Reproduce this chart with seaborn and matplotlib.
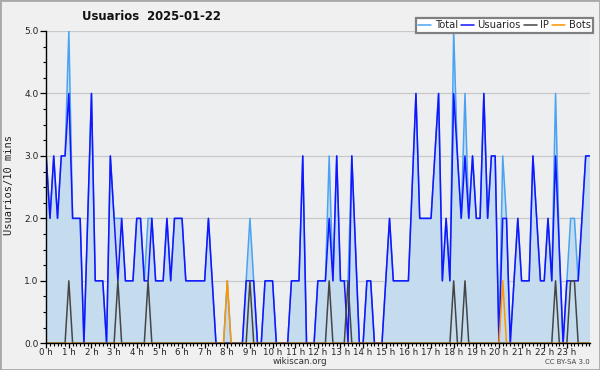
import numpy as np
import pandas as pd
import matplotlib
matplotlib.use("Agg")
import matplotlib.pyplot as plt
import seaborn as sns
from matplotlib.ticker import MultipleLocator, FixedLocator, FormatStrFormatter
from matplotlib.patches import Rectangle

# ---- data (10-minute slots, 0h .. 24h) ----
hour_labels = [f"{h} h" for h in range(24)]

usuarios = [
    3, 2, 3, 2, 3, 3,      # 0h
    4, 2, 2, 2, 0, 2,      # 1h
    4, 1, 1, 1, 0, 3,      # 2h
    2, 1, 2, 1, 1, 1,      # 3h
    2, 2, 1, 1, 2, 1,      # 4h
    1, 1, 2, 1, 2, 2,      # 5h
    2, 1, 1, 1, 1, 1,      # 6h
    1, 2, 1, 0, 0, 0,      # 7h
    0, 0, 0, 0, 0, 1,      # 8h
    1, 1, 0, 0, 1, 1,      # 9h
    1, 0, 0, 0, 0, 1,      # 10h
    1, 1, 3, 0, 0, 0,      # 11h
    1, 1, 1, 2, 1, 3,      # 12h
    1, 1, 0, 3, 1.5, 0,    # 13h
    0, 1, 1, 0, 0, 0,      # 14h
    1, 2, 1, 1, 1, 1,      # 15h
    1, 2.5, 4, 2, 2, 2,    # 16h
    2, 3, 4, 1, 2, 1,      # 17h
    4, 3, 2, 3, 2, 3,      # 18h
    2, 2, 4, 2, 3, 3,      # 19h
    0, 2, 2, 0, 1, 2,      # 20h
    1, 1, 1, 3, 2, 1,      # 21h
    1, 2, 1, 3, 1.5, 0,    # 22h
    1, 1, 1, 1, 2, 3,      # 23h
    3,
]

total = [
    3, 2, 3, 2, 3, 3,
    5, 2, 2, 2, 0, 2,
    4, 1, 1, 1, 0, 3,
    2, 2, 2, 1, 1, 1,
    2, 2, 1, 2, 2, 1,
    1, 1, 2, 1, 2, 2,
    2, 1, 1, 1, 1, 1,
    1, 2, 1, 0, 0, 0,
    1, 0, 0, 0, 0, 1,
    2, 1, 0, 0, 1, 1,
    1, 0, 0, 0, 0, 1,
    1, 1, 3, 0, 0, 0,
    1, 1, 1, 3, 1, 3,
    1, 1, 1, 3, 1.5, 0,
    0, 1, 1, 0, 0, 0,
    1, 2, 1, 1, 1, 1,
    1, 2.5, 4, 2, 2, 2,
    2, 3, 4, 1, 2, 1,
    5, 3, 2, 4, 2, 3,
    2, 2, 4, 2, 3, 3,
    0, 3, 2, 0, 1, 2,
    1, 1, 1, 3, 2, 1,
    1, 2, 1, 4, 1.5, 0,
    1, 2, 2, 1, 2, 3,
    3,
]

ip = [
    0, 0, 0, 0, 0, 0,
    1, 0, 0, 0, 0, 0,
    0, 0, 0, 0, 0, 0,
    0, 1, 0, 0, 0, 0,
    0, 0, 0, 1, 0, 0,
    0, 0, 0, 0, 0, 0,
    0, 0, 0, 0, 0, 0,
    0, 0, 0, 0, 0, 0,
    0, 0, 0, 0, 0, 0,
    1, 0, 0, 0, 0, 0,
    0, 0, 0, 0, 0, 0,
    0, 0, 0, 0, 0, 0,
    0, 0, 0, 1, 0, 0,
    0, 0, 1, 0, 0, 0,
    0, 0, 0, 0, 0, 0,
    0, 0, 0, 0, 0, 0,
    0, 0, 0, 0, 0, 0,
    0, 0, 0, 0, 0, 0,
    1, 0, 0, 1, 0, 0,
    0, 0, 0, 0, 0, 0,
    0, 0, 0, 0, 0, 0,
    0, 0, 0, 0, 0, 0,
    0, 0, 0, 1, 0, 0,
    0, 1, 1, 0, 0, 0,
    0,
]

bots = [0] * 145
bots[48] = 1
bots[121] = 1

hours = np.arange(len(usuarios)) / 6.0

df = pd.DataFrame({"h": hours, "Total": total, "Usuarios": usuarios,
                   "IP": ip, "Bots": bots})

# ---- style ----
sns.set_theme(style="white")
plt.rcParams["font.family"] = ["DejaVu Sans"]

W, H = 600, 370
fig = plt.figure(figsize=(6, 3.7), dpi=100, facecolor="#f0f0f0")
x0, x1, ytop, ybot = 46.2, 589.5, 31.0, 343.3
ax = fig.add_axes([x0 / W, (H - ybot) / H, (x1 - x0) / W, (ybot - ytop) / H])
ax.set_facecolor("#edeef0")

colors = {"Total": "#4aa3f2", "Usuarios": "#1414ff", "IP": "#454545", "Bots": "#ff9500"}

ax.fill_between(df["h"], df["Total"], 0, color="#c5dcef", lw=0, zorder=1)
for name in ["Total", "Usuarios", "IP", "Bots"]:
    sns.lineplot(data=df, x="h", y=name, ax=ax, color=colors[name], lw=1.1,
                 label=name, zorder=3)

ax.set_xlim(0, 24)
ax.set_ylim(0, 5)
ax.set_xlabel("")
ax.set_ylabel("")

ax.yaxis.set_major_locator(MultipleLocator(1))
ax.yaxis.set_minor_locator(MultipleLocator(0.25))
ax.yaxis.set_major_formatter(FormatStrFormatter("%.1f"))
ax.xaxis.set_major_locator(FixedLocator(list(range(24))))
ax.set_xticklabels(hour_labels)
ax.xaxis.set_minor_locator(MultipleLocator(1 / 6))
ax.tick_params(axis="y", which="major", direction="out", length=4, width=0.9,
               color="black", labelsize=6.5, pad=1.5, labelcolor="#222222")
ax.tick_params(axis="x", which="major", direction="out", length=3.5, width=0.9,
               color="black", labelsize=6.2, pad=0.2, labelcolor="#222222")
ax.tick_params(axis="both", which="minor", direction="out", length=2.5, width=0.8,
               color="black")
ax.tick_params(axis="x", which="both", bottom=True)
ax.tick_params(axis="y", which="both", left=True)

ax.grid(axis="y", which="major", color="#c8c8c8", lw=0.9, zorder=0)
ax.set_axisbelow(True)
for s in ["top", "right"]:
    ax.spines[s].set_visible(False)
for s in ["left", "bottom"]:
    ax.spines[s].set_color("black")
    ax.spines[s].set_linewidth(1.0)
    ax.spines[s].set_zorder(5)

handles, labels = ax.get_legend_handles_labels()
ax.get_legend().remove()
leg = fig.legend(handles, labels, ncol=4, loc="upper right",
                 bbox_to_anchor=(593 / W, 1 - 17.5 / H), fontsize=7.2,
                 handlelength=1.3, handletextpad=0.35, columnspacing=0.3,
                 borderpad=0.25, borderaxespad=0, fancybox=False, framealpha=1,
                 edgecolor="#808080", facecolor="white")
leg.get_frame().set_linewidth(1.6)

fig.text(151 / W, 1 - 16 / H, "Usuarios  2025-01-22", ha="center", va="center",
         fontsize=8.4, fontweight="bold", color="#111111")
fig.text(9 / W, 1 - 185 / H, "Usuarios/10 mins", rotation=90, ha="center",
         va="center", fontsize=7.5, family="DejaVu Sans Mono", color="#222222")
fig.text(300 / W, 1 - 362 / H, "wikiscan.org", ha="center", va="center",
         fontsize=6.3, color="#333333")
fig.text(590 / W, 1 - 362 / H, "CC BY-SA 3.0", ha="right", va="center",
         fontsize=5, color="#444444")

fig.patches.append(Rectangle((0, 0), 1, 1, transform=fig.transFigure, fill=False,
                             edgecolor="#a8a8a8", lw=2.0))

fig.savefig("out.png", dpi=100, facecolor=fig.get_facecolor())
